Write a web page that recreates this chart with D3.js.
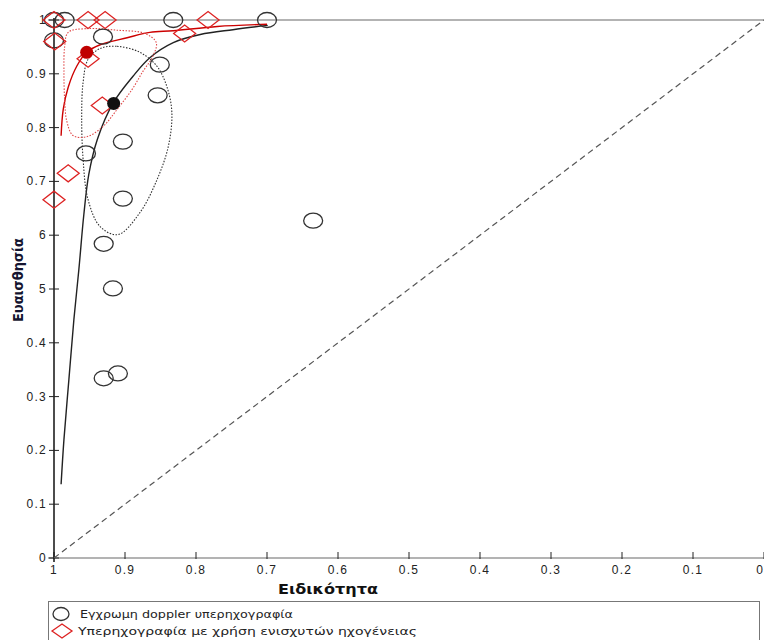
<!DOCTYPE html>
<html>
<head>
<meta charset="utf-8">
<script src="https://cdn.jsdelivr.net/npm/d3@7"></script>
<style>
  body { margin: 0; background: #fff; }
  svg { display: block; }
</style>
</head>
<body>
<script>
// study points: [specificity, sensitivity]
var dopplerStudies = [
  [1.0, 1.0], [0.985, 1.0], [0.832, 1.0], [0.700, 1.0],
  [1.0, 0.962], [0.931, 0.969], [0.851, 0.917], [0.854, 0.860],
  [0.903, 0.774], [0.955, 0.752], [0.903, 0.668], [0.930, 0.584],
  [0.917, 0.501], [0.635, 0.627], [0.930, 0.334], [0.910, 0.343]
];
var contrastStudies = [
  [1.0, 1.0], [0.952, 1.0], [0.928, 1.0], [0.783, 1.0],
  [0.816, 0.975], [0.999, 0.960], [0.952, 0.928], [0.932, 0.841],
  [0.980, 0.715], [1.0, 0.666]
];

// summary operating points
var dopplerSummary = [0.916, 0.845];
var contrastSummary = [0.954, 0.940];

// SROC curves
var dopplerCurve = [
  [0.990, 0.137], [0.986, 0.220], [0.979, 0.332], [0.972, 0.443],
  [0.965, 0.536], [0.958, 0.638], [0.951, 0.713], [0.939, 0.778],
  [0.917, 0.845], [0.889, 0.895], [0.865, 0.930], [0.832, 0.958],
  [0.794, 0.973], [0.748, 0.982], [0.699, 0.990]
];
var contrastCurve = [
  [0.990, 0.785], [0.987, 0.834], [0.980, 0.875], [0.968, 0.914],
  [0.954, 0.940], [0.935, 0.954], [0.897, 0.967], [0.865, 0.977],
  [0.832, 0.980], [0.770, 0.988], [0.700, 0.992]
];

// 95% confidence regions
var dopplerRegion = [
  [0.935, 0.947], [0.911, 0.951], [0.879, 0.940], [0.855, 0.914],
  [0.841, 0.876], [0.834, 0.828], [0.839, 0.765], [0.855, 0.703],
  [0.879, 0.642], [0.910, 0.601], [0.935, 0.616], [0.952, 0.666],
  [0.959, 0.741], [0.961, 0.821], [0.959, 0.884], [0.952, 0.927]
];
var contrastRegion = [
  [0.980, 0.977], [0.954, 0.984], [0.911, 0.981], [0.872, 0.975],
  [0.856, 0.958], [0.861, 0.932], [0.875, 0.904], [0.890, 0.871],
  [0.911, 0.834], [0.931, 0.802], [0.954, 0.783], [0.973, 0.785],
  [0.982, 0.812], [0.985, 0.852], [0.986, 0.902], [0.985, 0.950]
];

var xTicks = [1, 0.9, 0.8, 0.7, 0.6, 0.5, 0.4, 0.3, 0.2, 0.1, 0];
var xTickLabels = ["1", "0.9", "0.8", "0.7", "0.6", "0.5", "0.4", "0.3", "0.2", "0.1", "0"];
var yTicks = [0, 0.1, 0.2, 0.3, 0.4, 0.5, 0.6, 0.7, 0.8, 0.9, 1];
var yTickLabels = ["0", "0.1", "0.2", "0.3", "0.4", "5", "6", "0.7", "0.8", "0.9", "1"];

var legendLabels = ["Εγχρωμη doppler υπερηχογραφία", "Υπερηχογραφία με χρήση ενισχυτών ηχογένειας"];

var red = "#dd2222";

var svg = d3.select("body").append("svg")
    .attr("width", 764)
    .attr("height", 640);

var x = d3.scaleLinear().domain([1, 0]).range([54, 764]);
var y = d3.scaleLinear().domain([0, 1]).range([558, 20]);

var tickFont = "'Liberation Sans', Arial, sans-serif";

// bottom axis (grey line, dark ticks pointing up)
svg.append("line")
    .attr("x1", x(1) - 6).attr("x2", x(0))
    .attr("y1", y(0)).attr("y2", y(0))
    .attr("stroke", "#9a9a9a").attr("stroke-width", 1.5);
// line at sensitivity 1
svg.append("line")
    .attr("x1", x(1) - 6).attr("x2", x(0))
    .attr("y1", y(1)).attr("y2", y(1))
    .attr("stroke", "#9a9a9a").attr("stroke-width", 1.5);

svg.selectAll(".xtick").data(xTicks).enter().append("line")
    .attr("class", "xtick")
    .attr("x1", function(d) { return x(d); }).attr("x2", function(d) { return x(d); })
    .attr("y1", y(0) - 6).attr("y2", y(0) + 1)
    .attr("stroke", "#222").attr("stroke-width", 1);

svg.selectAll(".xlab").data(xTicks).enter().append("text")
    .attr("class", "xlab")
    .attr("x", function(d) { return d === 0 ? x(d) - 1 : x(d); })
    .attr("y", y(0) + 16)
    .attr("text-anchor", function(d) { return d === 0 ? "end" : "middle"; })
    .style("font-family", tickFont)
    .style("font-size", "12px")
    .style("letter-spacing", function(d) { return d === 0 ? "0px" : "1.3px"; })
    .attr("fill", "#222")
    .text(function(d, i) { return xTickLabels[i]; });

// left axis
svg.append("line")
    .attr("x1", x(1)).attr("x2", x(1))
    .attr("y1", y(1) - 2).attr("y2", y(0) + 4)
    .attr("stroke", "#111").attr("stroke-width", 1.5);

svg.selectAll(".ytick").data(yTicks).enter().append("line")
    .attr("class", "ytick")
    .attr("x1", x(1) - 5).attr("x2", x(1) + 5)
    .attr("y1", function(d) { return y(d); }).attr("y2", function(d) { return y(d); })
    .attr("stroke", "#222").attr("stroke-width", 1);

svg.selectAll(".ylab").data(yTicks).enter().append("text")
    .attr("class", "ylab")
    .attr("x", x(1) - 7)
    .attr("y", function(d) { return y(d) + 4; })
    .attr("text-anchor", "end")
    .style("font-family", tickFont)
    .style("font-size", "12px")
    .style("letter-spacing", "1.3px")
    .attr("fill", "#222")
    .text(function(d, i) { return yTickLabels[i]; });

// axis titles
svg.append("text")
    .attr("x", 328).attr("y", 594)
    .attr("text-anchor", "middle")
    .attr("textLength", 100).attr("lengthAdjust", "spacingAndGlyphs")
    .style("font-family", "'DejaVu Sans', sans-serif")
    .style("font-size", "14px").style("font-weight", "bold")
    .attr("fill", "#111")
    .text("Ειδικότητα");

svg.append("text")
    .attr("transform", "translate(23,280) rotate(-90)")
    .attr("text-anchor", "middle")
    .attr("textLength", 84).attr("lengthAdjust", "spacingAndGlyphs")
    .style("font-family", "'DejaVu Sans', sans-serif")
    .style("font-size", "14px").style("font-weight", "bold")
    .attr("fill", "#151530")
    .text("Ευαισθησία");

// chance diagonal
svg.append("line")
    .attr("x1", x(1)).attr("y1", y(0))
    .attr("x2", x(0)).attr("y2", y(1))
    .attr("stroke", "#555").attr("stroke-width", 1.2)
    .attr("stroke-dasharray", "6,4");

var line = d3.line()
    .x(function(d) { return x(d[0]); })
    .y(function(d) { return y(d[1]); });

// SROC curves
svg.append("path")
    .attr("d", line.curve(d3.curveCatmullRom)(dopplerCurve))
    .attr("fill", "none").attr("stroke", "#222").attr("stroke-width", 1.4);
svg.append("path")
    .attr("d", line.curve(d3.curveCatmullRom)(contrastCurve))
    .attr("fill", "none").attr("stroke", "#cc0000").attr("stroke-width", 1.4);

// confidence regions
svg.append("path")
    .attr("d", line.curve(d3.curveCatmullRomClosed)(dopplerRegion))
    .attr("fill", "none").attr("stroke", "#333").attr("stroke-width", 1.1)
    .attr("stroke-dasharray", "1.5,1.5");
svg.append("path")
    .attr("d", line.curve(d3.curveCatmullRomClosed)(contrastRegion))
    .attr("fill", "none").attr("stroke", "#e04848").attr("stroke-width", 1.1)
    .attr("stroke-dasharray", "1.5,1.5");

// study markers
svg.selectAll(".doppler").data(dopplerStudies).enter().append("ellipse")
    .attr("class", "doppler")
    .attr("cx", function(d) { return x(d[0]); })
    .attr("cy", function(d) { return y(d[1]); })
    .attr("rx", 9.5).attr("ry", 7.5)
    .attr("fill", "none").attr("stroke", "#333").attr("stroke-width", 1.3);

function diamond(cx, cy, w, h) {
  return "M" + (cx - w / 2) + "," + cy + "L" + cx + "," + (cy - h / 2) +
    "L" + (cx + w / 2) + "," + cy + "L" + cx + "," + (cy + h / 2) + "Z";
}

svg.selectAll(".contrast").data(contrastStudies).enter().append("path")
    .attr("class", "contrast")
    .attr("d", function(d) { return diamond(x(d[0]), y(d[1]), 22, 17); })
    .attr("fill", "none").attr("stroke", red).attr("stroke-width", 1.3);

// summary points
svg.append("circle")
    .attr("cx", x(dopplerSummary[0])).attr("cy", y(dopplerSummary[1]))
    .attr("r", 6.5).attr("fill", "#111");
svg.append("circle")
    .attr("cx", x(contrastSummary[0])).attr("cy", y(contrastSummary[1]))
    .attr("r", 6.5).attr("fill", "#c00000");

// legend
svg.append("rect")
    .attr("x", 48.5).attr("y", 601.5)
    .attr("width", 711).attr("height", 60)
    .attr("fill", "none").attr("stroke", "#777").attr("stroke-width", 1);

svg.append("ellipse")
    .attr("cx", 61).attr("cy", 614)
    .attr("rx", 8).attr("ry", 6.5)
    .attr("fill", "none").attr("stroke", "#333").attr("stroke-width", 1.3);
svg.append("path")
    .attr("d", diamond(62, 631, 20, 14))
    .attr("fill", "none").attr("stroke", red).attr("stroke-width", 1.3);

var legendWidths = [213, 339];
svg.selectAll(".leg").data(legendLabels).enter().append("text")
    .attr("class", "leg")
    .attr("x", function(d, i) { return i === 0 ? 80 : 78; })
    .attr("y", function(d, i) { return 618 + i * 17; })
    .attr("textLength", function(d, i) { return legendWidths[i]; })
    .attr("lengthAdjust", "spacingAndGlyphs")
    .style("font-family", "'DejaVu Sans', sans-serif")
    .style("font-size", "11px")
    .attr("fill", "#222")
    .text(function(d) { return d; });
</script>
</body>
</html>
